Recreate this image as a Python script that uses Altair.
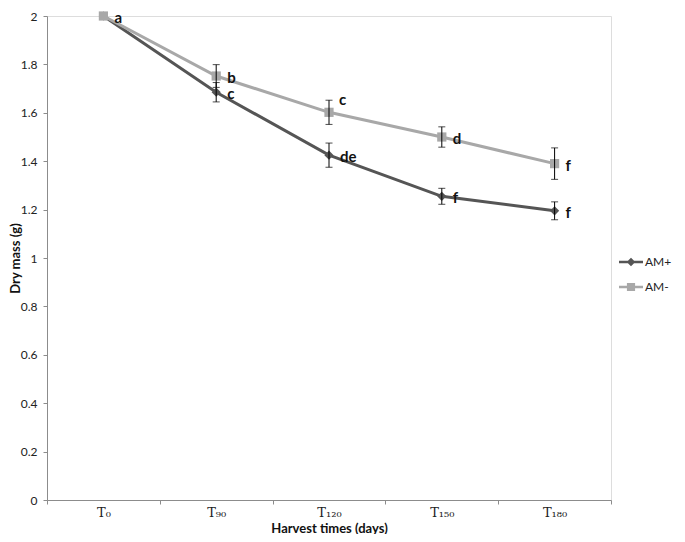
import altair as alt
import pandas as pd

times = ["T₀", "T₉₀", "T₁₂₀", "T₁₅₀", "T₁₈₀"]
series_names = ["AM+", "AM-"]
am_plus = [2.0, 1.685, 1.425, 1.255, 1.195]
am_plus_err = [0.0, 0.04, 0.05, 0.033, 0.037]
am_minus = [2.0, 1.752, 1.602, 1.50, 1.39]
am_minus_err = [0.0, 0.047, 0.05, 0.042, 0.065]
letters_plus = ["", "c", "de", "f", "f"]
letters_minus = ["a", "b", "c", "d", "f"]
y_ticks = [0, 0.2, 0.4, 0.6, 0.8, 1.0, 1.2, 1.4, 1.6, 1.8, 2.0]

rows = []
for s, vals, errs, lets in [("AM+", am_plus, am_plus_err, letters_plus),
                            ("AM-", am_minus, am_minus_err, letters_minus)]:
    for t, v, e, l in zip(times, vals, errs, lets):
        rows.append({"time": t, "series": s, "mass": v, "lo": v - e, "hi": v + e, "letter": l})
df = pd.DataFrame(rows)

colors = ["#555555", "#a8a8a8"]
FONT = "Lato"

x = alt.X("time:N", sort=times, title="Harvest times (days)",
          scale=alt.Scale(type="band", paddingInner=0, paddingOuter=0),
          axis=alt.Axis(tickBand="extent", labelAngle=0, labelFont="DejaVu Serif",
                        labelFontSize=13, labelColor="#222", labelPadding=2,
                        tickSize=4, domainColor="#8c8c8c", tickColor="#8c8c8c",
                        titleFont=FONT, titleFontSize=13, titleFontWeight="bold",
                        titleColor="#111", titlePadding=3))
y = alt.Y("mass:Q", title="Dry mass (g)",
          scale=alt.Scale(domain=[0, 2], nice=False),
          axis=alt.Axis(values=y_ticks, format=".1~f", grid=False, tickSize=4,
                        labelFont=FONT, labelFontSize=12, labelColor="#222", labelPadding=6,
                        domainColor="#8c8c8c", tickColor="#8c8c8c",
                        titleFont=FONT, titleFontSize=13, titleFontWeight="bold",
                        titleColor="#111", titleX=-32, titleBaseline="middle"))

col = alt.Color("series:N", scale=alt.Scale(domain=series_names, range=colors), legend=None)

base = alt.Chart(df)

lines = base.mark_line(strokeWidth=3).encode(x=x, y=y, color=col)
points = base.mark_point(filled=True, opacity=1, size=85).encode(
    x=x, y=y, color=col,
    shape=alt.Shape("series:N", scale=alt.Scale(domain=series_names, range=["diamond", "square"]), legend=None))

err = base.transform_filter("datum.hi > datum.lo")
rules = err.mark_rule(color="black", strokeWidth=1).encode(x=x, y="lo:Q", y2="hi:Q")
caps_hi = err.mark_tick(color="black", thickness=1, size=7).encode(x=x, y="hi:Q")
caps_lo = err.mark_tick(color="black", thickness=1, size=7).encode(x=x, y="lo:Q")

special = "datum.series == 'AM-' && datum.time == 'T₁₂₀'"
txt = base.transform_filter("!(" + special + ")").mark_text(
    align="left", baseline="middle", dx=11, dy=2, font=FONT, fontSize=15,
    fontWeight="bold", color="#111").encode(x=x, y=y, text="letter:N")
txt2 = base.transform_filter(special).mark_text(
    align="left", baseline="middle", dx=10, dy=-12, font=FONT, fontSize=15,
    fontWeight="bold", color="#111").encode(x=x, y=y, text="letter:N")

path_plus = "M-1,-0.11L1,-0.11L1,0.11L-1,0.11Z M0,-0.36L0.36,0L0,0.36L-0.36,0Z"
path_minus = "M-1,-0.11L1,-0.11L1,0.11L-1,0.11Z M-0.34,-0.34L0.34,-0.34L0.34,0.34L-0.34,0.34Z"
leg = alt.Legend(title=None, orient="none", legendX=572, legendY=234,
                 symbolSize=576, symbolStrokeWidth=0,
                 labelFont=FONT, labelFontSize=12, labelColor="#222",
                 labelOffset=2, rowPadding=7)
legend_layer = base.transform_filter("false").mark_point(filled=True, opacity=1).encode(
    x=x, y=y,
    color=alt.Color("series:N", scale=alt.Scale(domain=series_names, range=colors), legend=leg),
    shape=alt.Shape("series:N", scale=alt.Scale(domain=series_names, range=[path_plus, path_minus]),
                    legend=leg))

chart = alt.layer(lines, points, rules, caps_hi, caps_lo, txt, txt2, legend_layer).resolve_scale(
    color="independent", shape="independent"
).properties(
    width=564, height=484,
    autosize=alt.AutoSizeParams(type="none"),
    padding={"left": 39, "top": 8, "right": 66, "bottom": 34},
).configure_view(stroke=None).configure(background="white")

chart.save("out.html", embed_options={"renderer": "svg", "actions": False})
